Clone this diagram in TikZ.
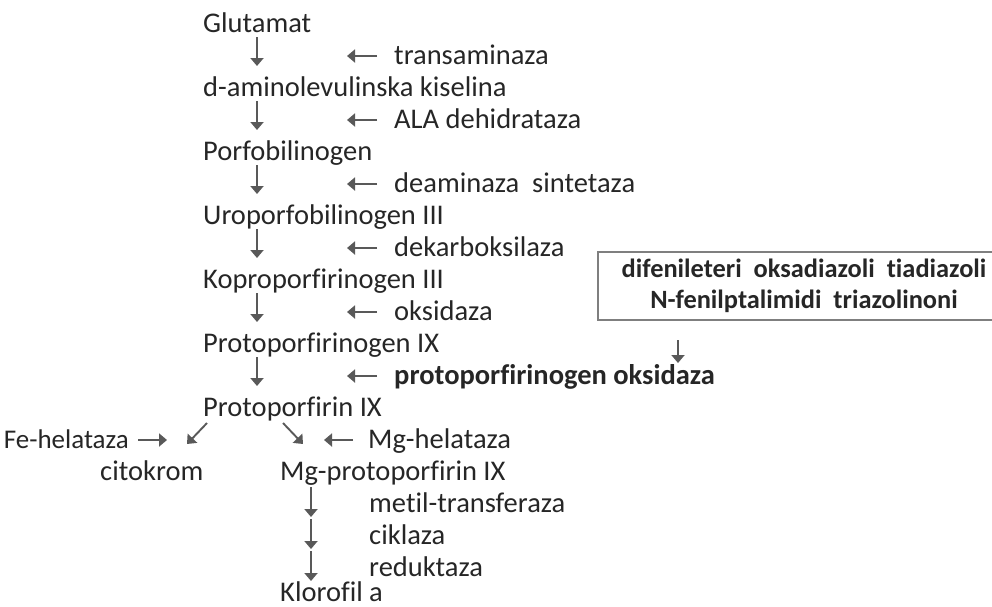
\documentclass[tikz,border=0pt]{standalone}
\usepackage{fontspec}
\setmainfont{Carlito}[Ligatures=NoCommon]
\usetikzlibrary{arrows.meta}
\definecolor{txt}{HTML}{262626}
\definecolor{arr}{HTML}{595959}
\definecolor{boxc}{HTML}{7F7F7F}
\begin{document}
\begin{tikzpicture}[x=1pt,y=-1pt,
  lbl/.style={anchor=base west,inner sep=0pt,text=txt,font=\fontsize{28.5}{32}\selectfont},
  blbl/.style={lbl,font=\fontsize{28.5}{32}\selectfont\bfseries},
  rarrow/.style={draw=arr,line width=1.9pt,-{Triangle[length=8pt,width=13pt]}},
  hbox/.style={draw=boxc,line width=1.2pt,minimum width=412pt,minimum height=68pt,inner sep=0pt,align=center,text=txt,font=\fontsize{26.4}{31}\selectfont\bfseries}]
\useasboundingbox (0,0) rectangle (992,606);
\clip (0,0) rectangle (992,606);
% main column
\node[lbl] (glu) at (203,32) {Glutamat};
\node[lbl] (ala) at (203,96) {d-aminolevulinska kiselina};
\node[lbl] (pbg) at (203,160) {Porfobilinogen};
\node[lbl] (uro) at (203,224) {Uroporfobilinogen III};
\node[lbl] (kop) at (203,288) {Koproporfirinogen III};
\node[lbl] (ppg) at (203,352) {Protoporfirinogen IX};
\node[lbl] (ppi) at (203,416) {Protoporfirin IX};
% enzymes
\node[lbl] (e1) at (394,64) {transaminaza};
\node[lbl] (e2) at (394,128) {ALA dehidrataza};
\node[lbl] (e3) at (394,192) {deaminaza\ \ sintetaza};
\node[lbl] (e4) at (394,256) {dekarboksilaza};
\node[lbl] (e5) at (394,320) {oksidaza};
\node[blbl] (e6) at (394,384) {protoporfirinogen oksidaza};
% branches
\node[lbl,anchor=base east,font=\fontsize{27}{32}\selectfont] (feh) at (129,448) {Fe-helataza};
\node[lbl] (mgh) at (368,448) {Mg-helataza};
\node[lbl] (cit) at (100,480) {citokrom};
\node[lbl] (mgp) at (280,480) {Mg-protoporfirin IX};
\node[lbl] (mt) at (369,512) {metil-transferaza};
\node[lbl] (cik) at (369,544) {ciklaza};
\node[lbl] (red) at (369,576) {reduktaza};
\node[lbl] (klo) at (280,601) {Klorofil a};
% inhibitor box
\node[hbox] (inh) at (804,286) {difenileteri\ \ oksadiazoli\ \ tiadiazoli\\N-fenilptalimidi\ \ triazolinoni};
% arrow end points
\foreach \k in {1,3,5,7,9,11}{
  \pgfmathsetmacro{\b}{32+32*\k}
  \coordinate (d\k a) at (257,\b-27);
  \coordinate (d\k b) at (257,\b+2);
  \coordinate (h\k a) at (377,\b-8);
  \coordinate (h\k b) at (347,\b-8);
}
\foreach \k in {1,3,5,7,9,11}{
  \draw[rarrow] (d\k a) -- (d\k b);
  \draw[rarrow] (h\k a) -- (h\k b);
}
\coordinate (ia) at (678,340);
\coordinate (ib) at (678,363);
\draw[rarrow] (ia) -- (ib);
% branch arrows
\coordinate (la) at (207,423); \coordinate (lb) at (187,444);
\coordinate (ra) at (283,423); \coordinate (rb) at (303,444);
\draw[rarrow] (la) -- (lb);
\draw[rarrow] (ra) -- (rb);
\coordinate (fa) at (138,440); \coordinate (fb) at (167,440);
\draw[rarrow] (fa) -- (fb);
\coordinate (ma) at (353,440); \coordinate (mb) at (324,440);
\draw[rarrow] (ma) -- (mb);
% lower chain
\foreach \k in {15,16,17}{
  \pgfmathsetmacro{\b}{32+32*\k}
  \coordinate (v\k a) at (311,\b-25);
  \coordinate (v\k b) at (311,\b+5);
  \draw[rarrow] (v\k a) -- (v\k b);
}
\end{tikzpicture}
\end{document}
